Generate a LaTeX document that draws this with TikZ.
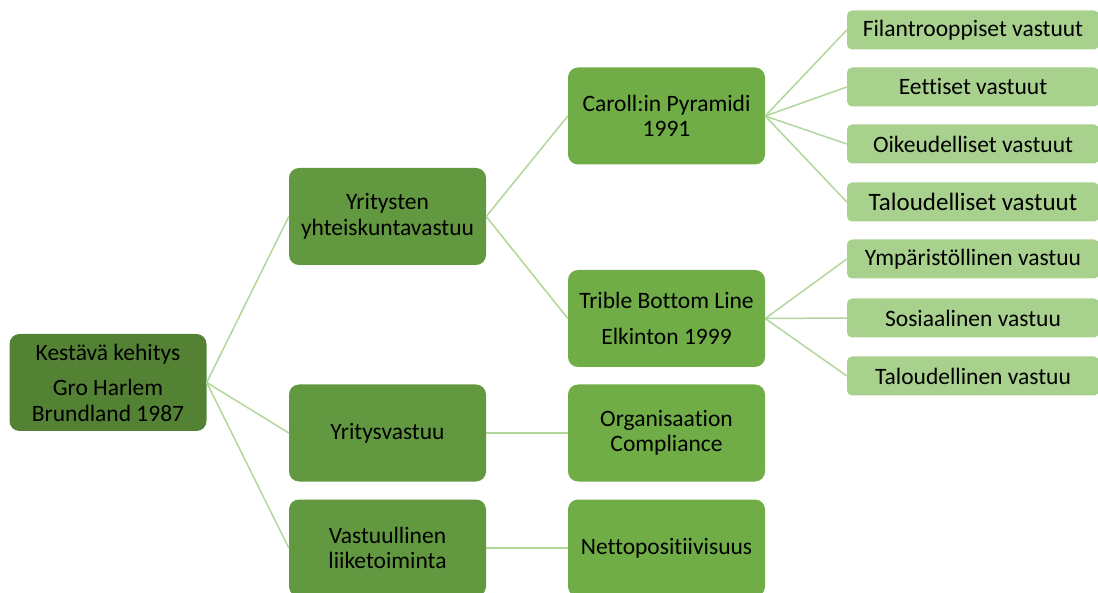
\documentclass[tikz,border=0pt]{standalone}
\usepackage{fontspec}
\setmainfont{Carlito}[Ligatures=NoCommon]
\usetikzlibrary{positioning}

\definecolor{rootgreen}{HTML}{548235}
\definecolor{midgreen}{HTML}{62983F}
\definecolor{subgreen}{HTML}{70AD47}
\definecolor{leafgreen}{HTML}{A9D18E}
\definecolor{linkgreen}{HTML}{B3D69B}

\begin{document}
\begin{tikzpicture}[x=1pt,y=-1pt,
    box/.style={rounded corners=10pt, minimum width=197pt, minimum height=97pt,
        inner sep=0pt, align=center, text=black, font=\fontsize{23.5}{25.5}\selectfont},
    rootbox/.style={box, fill=rootgreen},
    midbox/.style={box, fill=midgreen},
    subbox/.style={box, fill=subgreen},
    leafbox/.style={rounded corners=5pt, minimum width=252pt, minimum height=39pt,
        inner sep=0pt, fill=leafgreen, text=black, font=\fontsize{23.5}{25}\selectfont},
    link/.style={draw=linkgreen, line width=1.5pt}]
    \useasboundingbox (0,0) rectangle (1098,593);

    % Root
    \node[rootbox] (kehitys) at (108,382.5) {Kestävä kehitys\\[10pt]Gro Harlem\\Brundland 1987};

    % First level
    \node[midbox] (yhteiskunta) at (387.5,216.5) {Yritysten\\yhteiskuntavastuu};
    \node[midbox] (yritys) at (387.5,433) {Yritysvastuu};
    \node[midbox] (liiketoiminta) at (387.5,548) {Vastuullinen\\liiketoiminta};

    % Second level
    \node[subbox] (caroll) at (666.5,116) {Caroll:in Pyramidi\\1991};
    \node[subbox] (tbl) at (666.5,318.5) {Trible Bottom Line\\[10pt]Elkinton 1999};
    \node[subbox] (compliance) at (666.5,433) {Organisaation\\Compliance};
    \node[subbox] (netto) at (666.5,548) {Nettopositiivisuus};

    % Third level
    \node[leafbox] (filantr) at (973,30) {Filantrooppiset vastuut};
    \node[leafbox] (eettiset) at (973,87) {Eettiset vastuut};
    \node[leafbox] (oikeud) at (973,144) {Oikeudelliset vastuut};
    \node[leafbox, font=\fontsize{25}{27}\selectfont] (taloudv) at (973,202) {Taloudelliset vastuut};
    \node[leafbox] (ymparisto) at (973,259) {Ympäristöllinen vastuu};
    \node[leafbox] (sosiaal) at (973,318) {Sosiaalinen vastuu};
    \node[leafbox] (taloudl) at (973,376) {Taloudellinen vastuu};

    % Connectors
    \foreach \child in {yhteiskunta,yritys,liiketoiminta}
        \draw[link] (kehitys.east) -- (\child.west);
    \draw[link] (yhteiskunta.east) -- (caroll.west);
    \draw[link] (yhteiskunta.east) -- (tbl.west);
    \draw[link] (yritys.east) -- (compliance.west);
    \draw[link] (liiketoiminta.east) -- (netto.west);
    \foreach \child in {filantr,eettiset,oikeud,taloudv}
        \draw[link] (caroll.east) -- (\child.west);
    \foreach \child in {ymparisto,sosiaal,taloudl}
        \draw[link] (tbl.east) -- (\child.west);
\end{tikzpicture}
\end{document}
